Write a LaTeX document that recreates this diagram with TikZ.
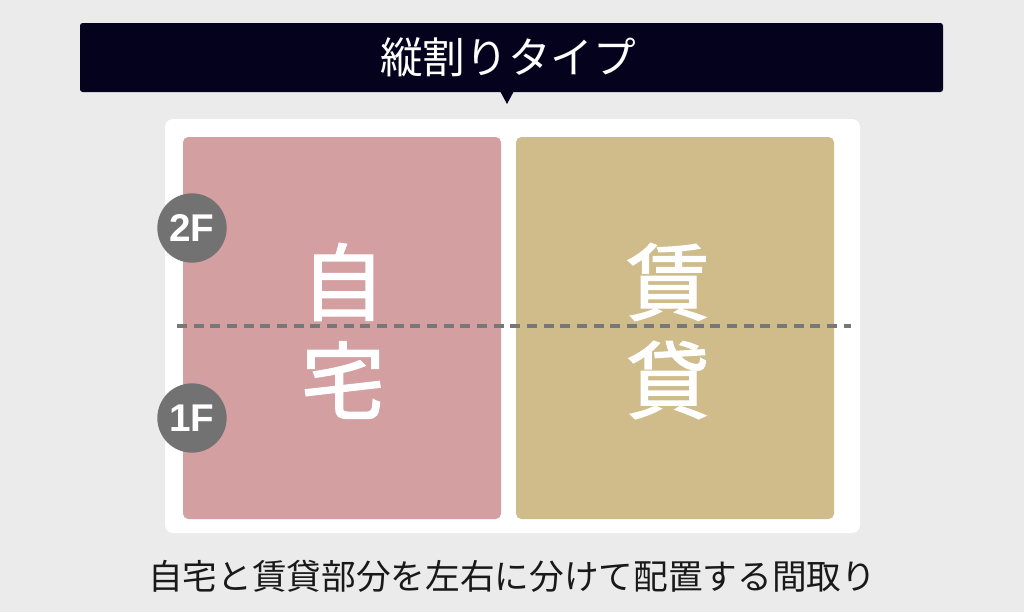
\documentclass[tikz,border=0pt]{standalone}
\usepackage{fontspec}
\newfontfamily\jp{Noto Sans CJK JP}
\newfontfamily\jpmed[FakeBold=1.6]{Noto Sans CJK JP}
\newfontfamily\flr{Liberation Sans}
\usetikzlibrary{positioning}
\definecolor{bggray}{HTML}{EBEBEB}
\definecolor{navy}{HTML}{05021E}
\definecolor{jitakupink}{HTML}{D39FA1}
\definecolor{chintan}{HTML}{CFBC8A}
\definecolor{floorgray}{HTML}{727272}
\definecolor{linegray}{HTML}{777777}

\begin{document}
\begin{tikzpicture}[x=0.75pt,y=-0.75pt,
	room/.style={rectangle,rounded corners=4pt,minimum width=238.5pt,minimum height=286.5pt,inner sep=0pt},
	bigchar/.style={text=white,font=\jpmed\fontsize{63}{63}\selectfont,inner sep=0pt},
	floor/.style={circle,fill=floorgray,minimum size=52pt,inner sep=0pt,text=white,font=\flr\bfseries\fontsize{29}{29}\selectfont},
	divider/.style={linegray,line width=2.4pt,dash pattern=on 7.5pt off 5pt}]
	\fill[bggray] (0,0) rectangle (1024,612);
	\useasboundingbox (0,0) rectangle (1024,612);
	% title bar
	\fill[navy,rounded corners=2pt] (80,23) rectangle (943,92);
	\fill[navy] (500,91) -- (514,91) -- (507,104) -- cycle;
	\node[text=white,font=\jp\fontsize{32}{32}\selectfont] (title) at (508,57) {縦割りタイプ};
	% panel
	\fill[white,rounded corners=6pt] (165,119) rectangle (860,533);
	\node[room,fill=jitakupink] (jitaku) at (342,328) {};
	\node[room,fill=chintan] (chintai) at (675,328) {};
	\node[bigchar] (ji) at (343,282) {自};
	\node[bigchar] (taku) at (343,380) {宅};
	\node[bigchar] (chin) at (668,282) {賃};
	\node[bigchar] (tai) at (668,380) {貸};
	% floor line
	\coordinate (dl) at (177,326);
	\coordinate (dr) at (851,326);
	\draw[divider] (dl) -- (dr);
	\node[floor] (f2) at (192,228) {2F};
	\node[floor] (f1) at (192,418) {1F};
	% caption
	\node[text=black!90,font=\jp\fontsize{26}{26}\selectfont] (caption) at (512,576) {自宅と賃貸部分を左右に分けて配置する間取り};
\end{tikzpicture}
\end{document}
